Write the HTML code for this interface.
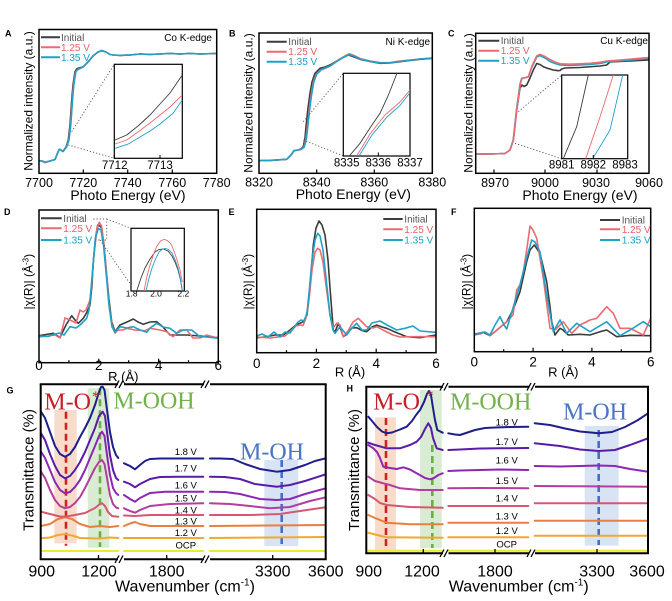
<!DOCTYPE html>
<html><head><meta charset="utf-8"><style>
html,body{margin:0;padding:0;background:#fff;}
svg{display:block;font-family:"Liberation Sans",sans-serif;}
.fr{fill:none;stroke:#000;stroke-width:1.5}
.ax{fill:none;stroke:#000;stroke-width:2}
.g{fill:none;stroke:#3c3c3c;stroke-width:1.6;stroke-linejoin:round}
.r{fill:none;stroke:#ec6b72;stroke-width:1.6;stroke-linejoin:round}
.b{fill:none;stroke:#1ea2c8;stroke-width:1.6;stroke-linejoin:round}
.gi{fill:none;stroke:#3c3c3c;stroke-width:0.9}
.ri{fill:none;stroke:#ec6b72;stroke-width:0.9}
.bi{fill:none;stroke:#1ea2c8;stroke-width:0.9}
.dt{fill:none;stroke:#555;stroke-width:0.9;stroke-dasharray:1.2 2}
.tk{font-size:12.5px;text-anchor:middle}
.tk2{font-size:13.5px;text-anchor:middle}
.it{font-size:11.5px;text-anchor:middle}
.lg{font-size:10px}
.pl{font-size:9px;font-weight:bold}
.v{fill:none;stroke-width:2;stroke-linejoin:round;stroke-linecap:round}
.vl{font-size:9.5px;text-anchor:middle}
.big{font-family:"Liberation Serif",serif;font-size:24px}
</style></head><body>
<svg width="672" height="601" viewBox="0 0 672 601" xmlns="http://www.w3.org/2000/svg">
<defs>
<clipPath id="ciA"><rect x="114.3" y="64.3" width="68" height="94"/></clipPath>
<clipPath id="ciB"><rect x="343.3" y="73.3" width="66.7" height="82.7"/></clipPath>
<clipPath id="ciC"><rect x="561.7" y="75" width="66" height="83.7"/></clipPath>
<clipPath id="ciD"><rect x="131" y="228.3" width="53.3" height="62.7"/></clipPath>
</defs>

<!-- ================= A ================= -->
<text class="pl" x="5" y="36.5">A</text>
<polyline class="g" points="39,160.7 42,161 45,162.5 50,161 55,159.5 58,152 59.3,149.3 61,150 63,151.5 66,147 68.3,140 70,125 71.7,100 73,85 75,71.7 77,68.5 78.3,68.3 83.3,66.7 88,62 93,56 98,52 101.7,50.7 106,52 110,54.5 113.3,55 120,55.5 130,55 140,54 150,54.5 160,54 170,53.5 180,54 190,53.5 200,54 216.7,53.5"/>
<polyline class="r" points="39,160.7 42,161 45,162.5 50,161 55,159.5 58,152 59.3,149.3 61,150 63,151.5 66.3,147 68.8,140 70.5,125 72.2,100 73.5,85 75.5,72 77.5,69.5 79,69 83.3,67 88,62 93,56 98,52 101.7,50.7 106,52 110,54.5 113.3,55 120,55.5 130,55 140,54 150,54.5 160,54 170,53.5 180,54 190,53.5 200,54 216.7,53.5"/>
<polyline class="b" points="39,160.5 42,161 45,162 50,161 55,159.5 58,152 59.3,149.3 61,150 63,151.5 66.6,147 69,140 70.8,125 72.5,100 73.8,85 75.8,72 77.8,69.5 79,68.8 83.3,66.7 88,62 93,56 98,52 101.7,50.5 106,52 110,54.5 113.3,55 120,55.3 130,55 140,54 150,54.3 160,54 170,53.3 180,54 190,53.3 200,54 216.7,53.3"/>
<line class="dt" x1="71.7" y1="131.7" x2="114.3" y2="64.3"/>
<line class="dt" x1="68.3" y1="145" x2="114.3" y2="158.3"/>
<rect x="114.3" y="64.3" width="68" height="94" fill="#fff" stroke="#000" stroke-width="1.2"/>
<g clip-path="url(#ciA)">
<polyline class="gi" points="115,140 126.7,135 138,126 150,115 160,104 170,93 182.3,75"/>
<polyline class="ri" points="115,144 126.7,140 138,132 150,123 160,115 170,107 182.3,95"/>
<polyline class="bi" points="115,148.3 128.3,144 140,137 150,131 160,124 173.3,113 182.3,100"/>
</g>
<line x1="114.3" y1="158.3" x2="114.3" y2="155" stroke="#000"/>
<line x1="160" y1="158.3" x2="160" y2="155" stroke="#000"/>
<text class="it" x="114.7" y="169">7712</text>
<text class="it" x="160" y="169">7713</text>
<rect class="fr" x="39" y="29.5" width="177.7" height="143.8"/>
<g stroke="#000" stroke-width="1.2">
<line x1="83.3" y1="173.3" x2="83.3" y2="169.5"/><line x1="127.7" y1="173.3" x2="127.7" y2="169.5"/><line x1="172.3" y1="173.3" x2="172.3" y2="169.5"/>
</g>
<line x1="41" y1="37.3" x2="60" y2="37.3" stroke="#3c3c3c" stroke-width="2"/>
<line x1="41" y1="47.3" x2="60" y2="47.3" stroke="#ec6b72" stroke-width="2"/>
<line x1="41" y1="57.3" x2="60" y2="57.3" stroke="#1ea2c8" stroke-width="2"/>
<text class="lg" x="61" y="40.8" fill="#555">Initial</text>
<text class="lg" x="61" y="50.8" fill="#e8606a">1.25 V</text>
<text class="lg" x="61" y="60.8" fill="#1aa0c8">1.35 V</text>
<text class="lg" x="212" y="41" text-anchor="end">Co K-edge</text>
<text class="tk" x="39" y="187">7700</text>
<text class="tk" x="83.3" y="187">7720</text>
<text class="tk" x="127.7" y="187">7740</text>
<text class="tk" x="172.3" y="187">7760</text>
<text class="tk" x="216.7" y="187">7780</text>
<text x="128" y="200" font-size="14" text-anchor="middle">Photo Energy (eV)</text>
<text transform="translate(32.5,101) rotate(-90)" font-size="12" text-anchor="middle">Normalized intensity (a.u.)</text>

<!-- ================= B ================= -->
<text class="pl" x="229" y="36.5">B</text>
<polyline class="g" points="259,160.7 270,160.5 286.7,159.3 290,156 291.7,154 294,150.7 298,150 301,149 303.3,146.7 305,138 306,126.7 308,108 310,93.3 312,82 315,73.3 320,68.3 325,67 330,65 335,62 338.3,60 343,57.5 348.3,55 353,56.5 360,59.3 370,61.5 380,63.3 390,63 400,61.7 410,60.5 420,59.3 432.3,58.3"/>
<polyline class="r" points="259,160.7 270,160.5 286.7,159.3 290,156 291.7,154 294,150.7 298,150 301,149.5 304,147 306,138 307.3,126.7 309.3,108 311.3,93.3 313.3,82 316.3,74 321,70 326,68 331,65.5 336,61.5 339.3,59.3 344,56.5 349.3,53.7 354,55.5 360,58.5 370,61 380,62.7 390,62.5 400,61 410,60 420,59 432.3,58"/>
<polyline class="b" points="259,160.5 270,160.3 286.7,159.3 290,156 291.7,154 294,150.7 298,150 301,149.5 304.3,147 306.5,138 307.8,126.7 309.8,108 311.8,93.3 313.8,82 316.8,74 321.5,69.5 326,67.5 331,65.5 336,62 339.3,60 344,57 349.3,54.7 354,56 360,59 370,61.3 380,63 390,62.8 400,61.5 410,60.3 420,59 432.3,58"/>
<line class="dt" x1="303.3" y1="121.7" x2="343.3" y2="73.3"/>
<line class="dt" x1="303.3" y1="140" x2="343.3" y2="156"/>
<rect x="343.3" y="73.3" width="66.7" height="82.7" fill="#fff" stroke="#000" stroke-width="1.2"/>
<g clip-path="url(#ciB)">
<polyline class="gi" points="349.3,156 360,143.3 370,128 380,113.3 388,96 396.7,74 399,68"/>
<polyline class="ri" points="356.7,156 370,134 385,115 400,102 410,90"/>
<polyline class="bi" points="359,156 372,135 387,117 400,105.5 410,92.7"/>
</g>
<line x1="378.3" y1="156" x2="378.3" y2="152.5" stroke="#000"/>
<text class="it" x="346.7" y="166.5">8335</text>
<text class="it" x="378.3" y="166.5">8336</text>
<text class="it" x="410" y="166.5">8337</text>
<rect class="fr" x="259" y="33" width="173.3" height="140.3"/>
<g stroke="#000" stroke-width="1.2">
<line x1="316.7" y1="173.3" x2="316.7" y2="169.5"/><line x1="374.3" y1="173.3" x2="374.3" y2="169.5"/>
</g>
<line x1="266.7" y1="41.7" x2="286.7" y2="41.7" stroke="#3c3c3c" stroke-width="2"/>
<line x1="266.7" y1="51.7" x2="286.7" y2="51.7" stroke="#ec6b72" stroke-width="2"/>
<line x1="266.7" y1="61.7" x2="286.7" y2="61.7" stroke="#1ea2c8" stroke-width="2"/>
<text class="lg" x="288.3" y="45.2" fill="#555">Initial</text>
<text class="lg" x="288.3" y="55.2" fill="#e8606a">1.25 V</text>
<text class="lg" x="288.3" y="65.2" fill="#1aa0c8">1.35 V</text>
<text class="lg" x="430" y="45" text-anchor="end">Ni K-edge</text>
<text class="tk" x="259" y="186.5">8320</text>
<text class="tk" x="316.7" y="186.5">8340</text>
<text class="tk" x="374.3" y="186.5">8360</text>
<text class="tk" x="432.3" y="186.5">8380</text>
<text x="353.3" y="199" font-size="14" text-anchor="middle">Photo Energy (eV)</text>
<text transform="translate(252.5,103) rotate(-90)" font-size="12" text-anchor="middle">Normalized intensity (a.u.)</text>

<!-- ================= C ================= -->
<text class="pl" x="448" y="36.5">C</text>
<polyline class="g" points="475.7,154 490,154 505,153.5 510,150 513.3,140 516.7,110 520,88 522,85 524,86.5 526.7,85 530,78 533.3,70 536.7,63.5 540,64.5 543.3,66.7 548,68.5 553.3,70 558,70.7 560,70.5 561.7,69 565,68 580,67.5 600,66 606.7,65 610,62 620,61.5 630,61 649,60"/>
<polyline class="b" points="475.7,154 490,154 505,153.5 510,150 513.3,140 516.7,108 520,84 521.7,78.3 525,77.7 528.3,77 532,67 536.7,57 540,55.5 545,58 550,61.5 555,63.5 560,65 570,65.5 580,65 590,64.5 600,63.5 606.7,62 620,61 649,58.5"/>
<polyline class="r" points="475.7,154 490,154 505,153.5 510,150 513.5,140 517,108 520.3,84 522,78.6 525,77.7 528.3,76.7 532,66 536.7,56 540,54.3 545,56.5 550,59.5 555,62 560,63.8 570,64.2 580,63.8 590,63.3 600,62.3 606.7,61 620,60 649,57.5"/>
<line class="dt" x1="518.3" y1="111.7" x2="561.7" y2="75"/>
<line class="dt" x1="515" y1="143.3" x2="561.7" y2="158.7"/>
<rect x="561.7" y="75" width="66" height="83.7" fill="#fff" stroke="#000" stroke-width="1.2"/>
<g clip-path="url(#ciC)">
<polyline class="gi" points="563.3,158.7 576.7,126.7 588.3,75"/>
<polyline class="ri" points="585.7,158.7 600,117 613.3,75"/>
<polyline class="bi" points="592.7,158.7 610,130 622.7,75"/>
</g>
<line x1="593.3" y1="158.7" x2="593.3" y2="155" stroke="#000"/>
<text class="it" x="561.7" y="168.5">8981</text>
<text class="it" x="593.3" y="168.5">8982</text>
<text class="it" x="625" y="168.5">8983</text>
<rect class="fr" x="475.7" y="33.3" width="173.3" height="140"/>
<g stroke="#000" stroke-width="1.2">
<line x1="494" y1="173.3" x2="494" y2="169.5"/><line x1="545" y1="173.3" x2="545" y2="169.5"/><line x1="597" y1="173.3" x2="597" y2="169.5"/>
</g>
<line x1="478.3" y1="40.7" x2="499.3" y2="40.7" stroke="#3c3c3c" stroke-width="2"/>
<line x1="478.3" y1="50.7" x2="499.3" y2="50.7" stroke="#ec6b72" stroke-width="2"/>
<line x1="478.3" y1="60.7" x2="499.3" y2="60.7" stroke="#1ea2c8" stroke-width="2"/>
<text class="lg" x="500.7" y="44.2" fill="#555">Initial</text>
<text class="lg" x="500.7" y="54.2" fill="#e8606a">1.25 V</text>
<text class="lg" x="500.7" y="64.2" fill="#1aa0c8">1.35 V</text>
<text class="lg" x="648" y="44" text-anchor="end">Cu K-edge</text>
<text class="tk" x="495" y="187">8970</text>
<text class="tk" x="545" y="187">9000</text>
<text class="tk" x="596" y="187">9030</text>
<text class="tk" x="649" y="187">9060</text>
<text x="580" y="200" font-size="14" text-anchor="middle">Photo Energy (eV)</text>
<text transform="translate(472.5,103) rotate(-90)" font-size="12" text-anchor="middle">Normalized intensity (a.u.)</text>

<!-- ================= D ================= -->
<text class="pl" x="4" y="215">D</text>
<polyline class="g" points="39,335.7 46,334.5 53.3,333.3 60,337.5 66,325 71.7,315.7 75,320 78.3,323.3 83.3,318.3 87,312 90,305 92,285 93.3,261.7 95.5,238 97.7,225 100,226 101.7,228.3 104,245 106.7,275 109,300 111.7,321.7 115,331.7 120,325 127,322 133.3,319 138,322 143.3,324.3 150,322 156.7,321.7 163,327 170,335 180,335 186.7,335 200,336 218.3,337.7"/>
<polyline class="r" points="39,337 48,336 55,335 60,338 65,318 70,320 76,323 80,310 83,312 86,310 90,300 92,280 94,255 97,228 99.3,222.3 101.5,226 104,245 106.7,275 109,305 112,325 115,333 118,330 123,330 126.7,328.3 135,330 145,330.7 150,328.3 160,330 166.7,331.7 173,336.7 180,330 186.7,330 193,338 200,338 206.7,335 218.3,338.3"/>
<polyline class="b" points="39,336 48,336.5 55,334 60,333 64,335 70,326.7 76,328 80,325 86.7,318.3 89,310 91,290 93,265 95.5,238 98.3,228.3 101,230 103.5,245 106.3,275 109,305 112,327 115,332.3 120,326.7 127,328 133.3,326.7 140,330 146.7,332.3 150,328 156.7,323.3 163,327 170,328.3 176.7,333.3 183,330 191.7,330 200,336.7 206.7,337 218.3,338.3"/>
<polyline class="dt" points="93.3,219 106.7,219 106.7,240 93.3,240"/>
<line class="dt" x1="106.7" y1="219" x2="131" y2="228.3"/>
<line class="dt" x1="100" y1="240" x2="131" y2="285"/>
<rect x="131" y="228.3" width="53.3" height="62.7" fill="#fff" stroke="#000" stroke-width="1.2"/>
<g clip-path="url(#ciD)">
<polyline class="gi" points="136.7,291 141,278 145,268 150,259 155,252 159,249.5 163.3,249 168,251 172,256 175,262 178,270 180.5,280 182.3,291"/>
<polyline class="ri" points="144,291 147,276 150,265 154,253 157,246 160.5,241 164,239.3 167.5,240.5 171,244 174,251 177,260 180,270 182.3,282"/>
<polyline class="bi" points="146,291 149,278 152,268 155.5,259 159,252 162,249.5 165,248.3 168.5,249.5 172,253 175,259.5 178,268 180.5,279 182.3,291"/>
</g>
<text x="131.7" y="296.5" font-size="8.5" text-anchor="middle">1.8</text>
<text x="156" y="296.5" font-size="8.5" text-anchor="middle">2.0</text>
<text x="183.3" y="296.5" font-size="8.5" text-anchor="middle">2.2</text>
<rect class="fr" x="39" y="210" width="179.3" height="152.7"/>
<g stroke="#000" stroke-width="1.2">
<line x1="98.8" y1="362.7" x2="98.8" y2="358.7"/><line x1="158.6" y1="362.7" x2="158.6" y2="358.7"/>
<line x1="68.9" y1="362.7" x2="68.9" y2="360.2"/><line x1="128.7" y1="362.7" x2="128.7" y2="360.2"/><line x1="188.5" y1="362.7" x2="188.5" y2="360.2"/>
</g>
<line x1="41" y1="218.3" x2="61.7" y2="218.3" stroke="#3c3c3c" stroke-width="2"/>
<line x1="41" y1="228.3" x2="61.7" y2="228.3" stroke="#ec6b72" stroke-width="2"/>
<line x1="41" y1="240" x2="61.7" y2="240" stroke="#1ea2c8" stroke-width="2"/>
<text class="lg" x="63.3" y="221.8" fill="#555">Initial</text>
<text class="lg" x="63.3" y="231.8" fill="#e8606a">1.25 V</text>
<text class="lg" x="63.3" y="243.5" fill="#1aa0c8">1.35 V</text>
<text class="tk2" x="39" y="370">0</text>
<text class="tk2" x="98.8" y="370">2</text>
<text class="tk2" x="158.6" y="370">4</text>
<text class="tk2" x="218.3" y="370">6</text>
<text x="123.3" y="381" font-size="13" text-anchor="middle">R (Å)</text>
<text transform="translate(32.5,281.7) rotate(-90)" font-size="12" text-anchor="middle">|χ(R)| (Å<tspan font-size="8" dy="-4">-3</tspan><tspan dy="4">)</tspan></text>

<!-- ================= E ================= -->
<text class="pl" x="228.5" y="215">E</text>
<polyline class="g" points="256.7,337.7 265,337 275,335 283.3,335 290,330 296,325 303.3,321.7 307,315 309.3,295 311,275 313.3,245 316,228 319,221 322,225 325,235 328,260 330,288 333.3,330 335,332 338.3,323.3 341,330 343.3,336.7 347,334 352,328 356.7,327.7 362,330.5 366.7,331.7 372,327 376.7,325 382,327 386.7,328.3 395,332 406.7,336.7 420,337.7 436,335"/>
<polyline class="r" points="256.7,337 270,338 285,336 296,326 300,325 303,325.5 306,318 309,300 312,270 315,252 317.7,248.3 320,250 323,262 326,285 330,315 333,328 337,323 340,325 343.3,336.7 348,331 353,322 358.3,318.3 362,322 366.7,326.7 373,328 376.7,326.7 383,330 393,335 400,337 413,336.7 436,336.7"/>
<polyline class="b" points="256.7,336 262,334 268,337 274,332 280,337 285,332 290,333 295,326 298,322 301,320 304,321 307,313 309.3,290 312,260 315,240 317.7,233.3 320,236 323,250 326,278 330,315 333,330 335,333.3 340,326.7 346.7,335 350,330 356.7,323.3 362,330 366.7,330 372,323 380,321 387,325 396.7,330 405,328.3 413,326 420,331 436,332.3"/>
<rect class="fr" x="256.7" y="209.3" width="179.3" height="143.4"/>
<g stroke="#000" stroke-width="1.2">
<line x1="316.4" y1="352.7" x2="316.4" y2="348.7"/><line x1="376.2" y1="352.7" x2="376.2" y2="348.7"/>
<line x1="286.5" y1="352.7" x2="286.5" y2="350.2"/><line x1="346.3" y1="352.7" x2="346.3" y2="350.2"/><line x1="406.1" y1="352.7" x2="406.1" y2="350.2"/>
</g>
<line x1="383.3" y1="219" x2="402.7" y2="219" stroke="#3c3c3c" stroke-width="2"/>
<line x1="383.3" y1="229.3" x2="402.7" y2="229.3" stroke="#ec6b72" stroke-width="2"/>
<line x1="383.3" y1="240" x2="402.7" y2="240" stroke="#1ea2c8" stroke-width="2"/>
<text class="lg" x="404.3" y="222.5" fill="#555">Initial</text>
<text class="lg" x="404.3" y="232.8" fill="#e8606a">1.25 V</text>
<text class="lg" x="404.3" y="243.5" fill="#1aa0c8">1.35 V</text>
<text class="tk2" x="256.7" y="368">0</text>
<text class="tk2" x="316.4" y="368">2</text>
<text class="tk2" x="376.2" y="368">4</text>
<text class="tk2" x="436" y="368">6</text>
<text x="350" y="376.5" font-size="13" text-anchor="middle">R (Å)</text>
<text transform="translate(252,281.7) rotate(-90)" font-size="12" text-anchor="middle">|χ(R)| (Å<tspan font-size="8" dy="-4">-3</tspan><tspan dy="4">)</tspan></text>

<!-- ================= F ================= -->
<text class="pl" x="451" y="215">F</text>
<polyline class="g" points="474.3,334.3 480,333 483.3,332.3 490,335.7 497,330 506.7,321.7 513,310 520,291.7 526.7,261.7 530,250 534.3,245 540,253.3 546.7,281.7 550,306.7 551.7,321.7 555,335 560,328.3 563,330 568.3,335 580,334.3 590,335 600,331.7 606.7,330 616.7,336.7 630,335.3 650.7,335.7"/>
<polyline class="r" points="474.3,335 480,334 485,332 490,335.7 506.7,321.7 513,315 516.7,290 520,285 523.3,271.7 526.7,250 530,226 533,230 536.7,238.3 543.3,278.3 550,328.3 555,330 563.3,321.7 571.7,333.3 580,325 590,320 596.7,318.3 606.7,306.7 613.3,313.3 620,328.3 630,328.3 643.3,335 650.7,318.3"/>
<polyline class="b" points="474.3,335 480,333 485,332 490,335 495,325 500,316.7 504,325 506.7,329 513,308 520,285 526.7,258 531.7,240 535,242 540,251.7 546.7,295 553.3,331.7 560,320 566.7,333.3 576.7,323.3 590,331.7 606.7,321.7 620,335.7 630,330 643.3,321.7 650.7,326.7"/>
<rect class="fr" x="474.3" y="208.3" width="176.4" height="143.4"/>
<g stroke="#000" stroke-width="1.2">
<line x1="533.1" y1="351.7" x2="533.1" y2="347.7"/><line x1="591.9" y1="351.7" x2="591.9" y2="347.7"/>
<line x1="503.7" y1="351.7" x2="503.7" y2="349.2"/><line x1="562.5" y1="351.7" x2="562.5" y2="349.2"/><line x1="621.3" y1="351.7" x2="621.3" y2="349.2"/>
</g>
<line x1="600" y1="220" x2="620" y2="220" stroke="#3c3c3c" stroke-width="2"/>
<line x1="600" y1="229.3" x2="620" y2="229.3" stroke="#ec6b72" stroke-width="2"/>
<line x1="600" y1="240" x2="620" y2="240" stroke="#1ea2c8" stroke-width="2"/>
<text class="lg" x="621.7" y="223.5" fill="#555">Initial</text>
<text class="lg" x="621.7" y="232.8" fill="#e8606a">1.25 V</text>
<text class="lg" x="621.7" y="243.5" fill="#1aa0c8">1.35 V</text>
<text class="tk2" x="474.3" y="366.5">0</text>
<text class="tk2" x="533.1" y="366.5">2</text>
<text class="tk2" x="591.9" y="366.5">4</text>
<text class="tk2" x="650.7" y="366.5">6</text>
<text x="563.3" y="376.5" font-size="13" text-anchor="middle">R (Å)</text>
<text transform="translate(470.5,281.7) rotate(-90)" font-size="12" text-anchor="middle">|χ(R)| (Å<tspan font-size="8" dy="-4">-3</tspan><tspan dy="4">)</tspan></text>

<!-- ================= G ================= -->
<text class="pl" x="6.5" y="393.5">G</text>
<rect x="54.3" y="410" width="22.4" height="133.3" fill="#f8dccb"/>
<rect x="87.7" y="388.3" width="21.6" height="159.4" fill="#d9ebd2"/>
<rect x="264.3" y="460" width="34" height="86" fill="#d8e3f4"/>
<line x1="66" y1="411.7" x2="66" y2="545.7" stroke="#d42020" stroke-width="2.6" stroke-dasharray="7 4"/>
<line x1="100" y1="388.3" x2="100" y2="547" stroke="#6ab040" stroke-width="2.6" stroke-dasharray="7 4"/>
<line x1="281.7" y1="460" x2="281.7" y2="546" stroke="#4070c8" stroke-width="2.6" stroke-dasharray="7 4"/>
<g class="v" stroke="#f0e830">
<polyline points="41,551 118.3,551"/><polyline points="124,551 203.3,551"/><polyline points="210,551 325.7,551"/>
</g>
<g class="v" stroke="#f2a830">
<polyline points="41,538.3 50,537.5 58,535 65,534 72,535.5 80,538 100,538.5 110,537.5 118.3,538"/>
<polyline points="124,538 203.3,538"/><polyline points="210,538 325.7,537"/>
</g>
<g class="v" stroke="#ea7e40">
<polyline points="41,526 50,524 58,519 65,517.3 72,519 80,524 90,527 100,526 110,527 118.3,526"/>
<polyline points="124,526 130,523.5 135,522 140,524 150,526 203.3,526"/>
<polyline points="210,526 325.7,525"/>
</g>
<g class="v" stroke="#d45872">
<polyline points="41,511.7 50,514 60,516.5 65,516.7 75,515 85,513 95,508 100,504 102,503.3 105,506 108,512 112,516 118.3,516.7"/>
<polyline points="124,515.5 135,516 150,515 203.3,515"/>
<polyline points="210,515 250,515 280,514 300,511 325.7,507.3"/>
</g>
<g class="v" stroke="#b43e9e">
<polyline points="41,471.7 45,478 50,490 55,500 60,506 65,508.3 70,507 75,503 80,497 85,488 90,478 95,468 99,462 102,460 104.5,464 107,478 110,495 113,504 116,507.5 118.3,508.3"/>
<polyline points="124,508.3 130,511 135,512.7 140,510 150,506 170,504 203.3,503.3"/>
<polyline points="210,503.3 230,504 250,506 270,508.3 290,507 310,501 325.7,497.3"/>
</g>
<g class="v" stroke="#8e26b4">
<polyline points="41,451.7 45,458 50,470 55,482 60,490 65,493.3 70,492 75,487 80,480 85,470 90,458 95,446 99,436 102,431.7 104.5,436 107,455 110,475 113,488 116,493 118.3,495"/>
<polyline points="124,495 130,499 135,501.7 140,498 150,493 165,491.7 203.3,491.7"/>
<polyline points="210,491.7 225,492 240,494 260,499 276.7,500 290,499 305,494 325.7,488.3"/>
</g>
<g class="v" stroke="#5a1ca8">
<polyline points="41,433.3 45,440 50,454 55,466 60,475 65,478.3 70,476 75,470 80,462 85,452 90,440 95,428 99,416 102.7,411.7 105,416 107,432 110,455 113,470 116,478 118.3,480"/>
<polyline points="124,481.7 130,484 135,487.3 140,484 150,479 160,477 180,476.7 203.3,476.7"/>
<polyline points="210,476.7 225,477 240,479 255,484 276.7,486.7 290,485 305,481 325.7,474.3"/>
</g>
<g class="v" stroke="#1e1e8c">
<polyline points="41,411.7 45,418 50,432 55,446 60,454 65,456.7 70,454 75,447 80,437 85,428 90,418 95,405 99,392 101,387 102.7,386.7 104.5,390 107,410 110,432 113,447 116,455 118.3,458"/>
<polyline points="124,463.3 130,466 135,469.3 140,465 145,461 150,459 160,458.5 180,458.5 203.3,458.5"/>
<polyline points="210,458.5 220,458.5 233,459 245,464 260,469 276.7,471.7 290,470 305,465 315,461 325.7,458.3"/>
</g>
<text class="big" x="44.3" y="409.3" fill="#c81e28">M-O</text>
<text x="92" y="401" font-family="Liberation Serif,serif" font-size="15" fill="#c81e28">*</text>
<text class="big" x="113.3" y="408.3" fill="#72b24a">M-OOH</text>
<text class="big" x="240" y="459.3" fill="#4a74c4">M-OH</text>
<text class="vl" x="185.8" y="455">1.8 V</text>
<text class="vl" x="185.8" y="471.7">1.7 V</text>
<text class="vl" x="185.8" y="488.3">1.6 V</text>
<text class="vl" x="185.8" y="501.7">1.5 V</text>
<text class="vl" x="185.8" y="513.3">1.4 V</text>
<text class="vl" x="185.8" y="524.3">1.3 V</text>
<text class="vl" x="185.8" y="536">1.2 V</text>
<text class="vl" x="185.8" y="548.3">OCP</text>
<g class="ax">
<line x1="40.7" y1="384.3" x2="40.7" y2="559.3"/><line x1="325.7" y1="384.3" x2="325.7" y2="559.3"/>
<line x1="39.7" y1="384.3" x2="118" y2="384.3"/><line x1="124" y1="384.3" x2="204" y2="384.3"/><line x1="210" y1="384.3" x2="326.7" y2="384.3"/>
<line x1="39.7" y1="559.3" x2="118" y2="559.3"/><line x1="124" y1="559.3" x2="204" y2="559.3"/><line x1="210" y1="559.3" x2="326.7" y2="559.3"/>
</g>
<g stroke="#000" stroke-width="1.3">
<line x1="115" y1="388" x2="119" y2="380.5"/><line x1="119" y1="388" x2="123" y2="380.5"/>
<line x1="201" y1="388" x2="205" y2="380.5"/><line x1="205" y1="388" x2="209" y2="380.5"/>
<line x1="115" y1="563" x2="119" y2="555.5"/><line x1="119" y1="563" x2="123" y2="555.5"/>
<line x1="201" y1="563" x2="205" y2="555.5"/><line x1="205" y1="563" x2="209" y2="555.5"/>
<line x1="98.5" y1="559.3" x2="98.5" y2="555"/><line x1="166.7" y1="559.3" x2="166.7" y2="555"/><line x1="272.7" y1="559.3" x2="272.7" y2="555"/>
</g>
<text x="41.7" y="576.7" font-size="16" text-anchor="middle">900</text>
<text x="99" y="576.7" font-size="16" text-anchor="middle">1200</text>
<text x="166.7" y="576.7" font-size="16" text-anchor="middle">1800</text>
<text x="272.7" y="576.7" font-size="16" text-anchor="middle">3300</text>
<text x="325.7" y="576.7" font-size="16" text-anchor="middle">3600</text>
<text x="185" y="591.5" font-size="16" text-anchor="middle">Wavenumber (cm<tspan font-size="10" dy="-6">-1</tspan><tspan dy="6">)</tspan></text>
<text transform="translate(33.5,470) rotate(-90)" font-size="15" text-anchor="middle">Transmittance (%)</text>

<!-- ================= H ================= -->
<text class="pl" x="346.5" y="391.5">H</text>
<rect x="375" y="417.3" width="21" height="134.4" fill="#f8dccb"/>
<rect x="420" y="390" width="21.7" height="158.3" fill="#d9ebd2"/>
<rect x="584.7" y="426" width="34" height="119.7" fill="#d8e3f4"/>
<line x1="386" y1="418" x2="386" y2="551" stroke="#d42020" stroke-width="2.6" stroke-dasharray="7 4"/>
<line x1="432.3" y1="445" x2="432.3" y2="548" stroke="#6ab040" stroke-width="2.6" stroke-dasharray="7 4"/>
<line x1="598.7" y1="430" x2="598.7" y2="545" stroke="#4070c8" stroke-width="2.6" stroke-dasharray="7 4"/>
<g class="v" stroke="#f0e830">
<polyline points="368.3,550.7 442.7,550.7"/><polyline points="448.3,550.7 528.3,550.7"/><polyline points="534.7,550.7 648,550.7"/>
</g>
<g class="v" stroke="#f2a830">
<polyline points="368.3,532.7 375,534.5 386.7,537.3 442.7,537.7"/><polyline points="448.3,537.3 528.3,537.3"/><polyline points="534.7,535.7 648,535.7"/>
</g>
<g class="v" stroke="#ea7e40">
<polyline points="368.3,515 375,518 386.7,522.7 410,524.3 442.7,524.3"/><polyline points="448.3,522.7 528.3,522.7"/><polyline points="534.7,520.7 648,520.7"/>
</g>
<g class="v" stroke="#d45872">
<polyline points="368.3,495 375,499 380,503 386.7,505 410,507 442.7,507.7"/><polyline points="448.3,506 528.3,506"/><polyline points="534.7,503.3 648,503.3"/>
</g>
<g class="v" stroke="#b43e9e">
<polyline points="368.3,476.7 375,481 383.3,483.3 390,485 400,488.3 420,490 442.7,490"/><polyline points="448.3,488.3 480,488 528.3,488.3"/><polyline points="534.7,486 648,486.7"/>
</g>
<g class="v" stroke="#8e26b4">
<polyline points="368.3,445 373,448 377,452 380,458 383.3,466.7 390,468 396.7,469 403.3,467.3 410,469.5 418,474 425,478 430,479.3 434,478 438.3,475 442.7,473.3"/>
<polyline points="448.3,471 460,470.5 480,470 500,469.5 528.3,470"/>
<polyline points="534.7,466 560,466.5 580,466 598.7,465.5 615,466 630,469 648,471.7"/>
</g>
<g class="v" stroke="#5a1ca8">
<polyline points="368.3,442.7 375,445 386.7,448.3 400,448.3 410,445 416.7,441.7 421,437 425,429 428.3,423.3 431,428 433,438 436.7,448.3 442.7,450"/>
<polyline points="448.3,450 460,449.5 480,448.5 500,448.3 528.3,448"/>
<polyline points="534.7,443.3 560,446 580,449.5 598.7,451 615,450 630,445 648,438.3"/>
</g>
<g class="v" stroke="#1e1e8c">
<polyline points="368.3,416.7 372,421 377,427 382,431.5 386.7,433.3 392,432.5 400,429.5 406.7,426.7 412,421 416,415 420,410 424,402 427,394 429,391 431,395 433,408 435,420 437.3,430 442.7,432.7"/>
<polyline points="448.3,433.3 455,434.5 460,435 466,433 475,430 485,428 495,427.5 510,427 528.3,426.7"/>
<polyline points="534.7,423.3 550,425 565,428.5 580,431.5 598.7,433.3 612,432 625,427 638,420 648,413.3"/>
</g>
<text class="big" x="373.3" y="409.3" fill="#c81e28" font-size="25">M-O</text>
<text x="426" y="400" font-family="Liberation Serif,serif" font-size="15" fill="#c81e28">*</text>
<text class="big" x="450" y="409.3" fill="#72b24a">M-OOH</text>
<text class="big" x="563" y="419.3" fill="#4a74c4">M-OH</text>
<text class="vl" x="506.7" y="425.6">1.8 V</text>
<text class="vl" x="506.7" y="445">1.7 V</text>
<text class="vl" x="506.7" y="463.3">1.6 V</text>
<text class="vl" x="506.7" y="484">1.5 V</text>
<text class="vl" x="506.7" y="501.6">1.4 V</text>
<text class="vl" x="506.7" y="519.3">1.3 V</text>
<text class="vl" x="506.7" y="534">1.2 V</text>
<text class="vl" x="506.7" y="547.3">OCP</text>
<g class="ax">
<line x1="366.3" y1="386.7" x2="366.3" y2="553.3"/><line x1="648" y1="386.7" x2="648" y2="553.3"/>
<line x1="365.3" y1="386.7" x2="443" y2="386.7"/><line x1="448.5" y1="386.7" x2="529.5" y2="386.7"/><line x1="535" y1="386.7" x2="649" y2="386.7"/>
<line x1="365.3" y1="553.3" x2="443" y2="553.3"/><line x1="448.5" y1="553.3" x2="529.5" y2="553.3"/><line x1="535" y1="553.3" x2="649" y2="553.3"/>
</g>
<g stroke="#000" stroke-width="1.3">
<line x1="440" y1="390.5" x2="444" y2="383"/><line x1="444" y1="390.5" x2="448" y2="383"/>
<line x1="527" y1="390.5" x2="531" y2="383"/><line x1="531" y1="390.5" x2="535" y2="383"/>
<line x1="440" y1="557" x2="444" y2="549.5"/><line x1="444" y1="557" x2="448" y2="549.5"/>
<line x1="527" y1="557" x2="531" y2="549.5"/><line x1="531" y1="557" x2="535" y2="549.5"/>
<line x1="423.3" y1="553.3" x2="423.3" y2="549"/><line x1="495" y1="553.3" x2="495" y2="549"/><line x1="597" y1="553.3" x2="597" y2="549"/>
</g>
<text x="368.7" y="576.7" font-size="16" text-anchor="middle">900</text>
<text x="422" y="576.7" font-size="16" text-anchor="middle">1200</text>
<text x="495" y="576.7" font-size="16" text-anchor="middle">1800</text>
<text x="597" y="576.7" font-size="16" text-anchor="middle">3300</text>
<text x="647" y="576.7" font-size="16" text-anchor="middle">3600</text>
<text x="518.7" y="591.5" font-size="16" text-anchor="middle">Wavenumber (cm<tspan font-size="10" dy="-6">-1</tspan><tspan dy="6">)</tspan></text>
<text transform="translate(359,470) rotate(-90)" font-size="15" text-anchor="middle">Transmittance (%)</text>
</svg>
</body></html>
